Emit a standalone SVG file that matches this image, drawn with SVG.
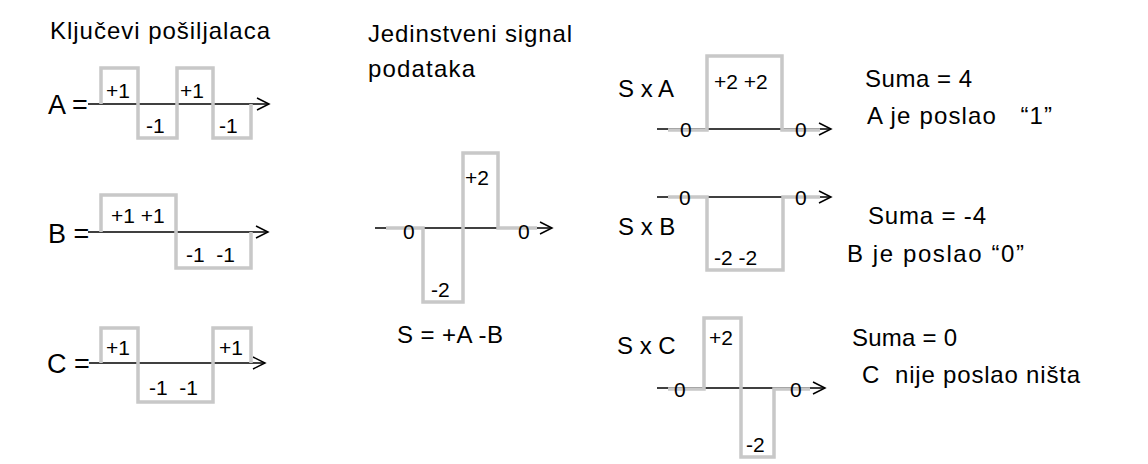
<svg xmlns="http://www.w3.org/2000/svg" width="1148" height="464" viewBox="0 0 1148 464">
<style>
  text { font-family: "Liberation Sans", Arial, sans-serif; fill: #000; }
  .t { font-size: 24px; }
  .eq { font-size: 27px; }
  .v { font-size: 21px; }
  .axis { stroke: #000; stroke-width: 1.5; fill: none; }
  .wave { stroke: #c8c8c8; stroke-width: 3.5; fill: none; stroke-linejoin: miter; }
</style>
<defs>
  <marker id="arr" markerUnits="userSpaceOnUse" markerWidth="16" markerHeight="16" viewBox="0 0 16 16" refX="13" refY="7" orient="auto">
    <path d="M1,1 L13,7 L1,13" fill="none" stroke="#000" stroke-width="1.5"/>
  </marker>
</defs>
<rect width="1148" height="464" fill="#fff"/>

<g id="titles">
  <text class="t" x="50" y="39" textLength="220" lengthAdjust="spacing">Ključevi pošiljalaca</text>
  <text class="t" x="368" y="42" textLength="204" lengthAdjust="spacing">Jedinstveni signal</text>
  <text class="t" x="368" y="77" textLength="107" lengthAdjust="spacing">podataka</text>
</g>

<g id="connectors">
  <line class="axis" x1="88" y1="104" x2="269" y2="104" marker-end="url(#arr)"/>
  <line class="axis" x1="88" y1="232" x2="268" y2="232" marker-end="url(#arr)"/>
  <line class="axis" x1="89" y1="363" x2="265" y2="363" marker-end="url(#arr)"/>
  <line class="axis" x1="375" y1="228" x2="552" y2="228" marker-end="url(#arr)"/>
  <line class="axis" x1="657" y1="129" x2="831" y2="129" marker-end="url(#arr)"/>
  <line class="axis" x1="657" y1="197" x2="831" y2="197" marker-end="url(#arr)"/>
  <line class="axis" x1="657" y1="388" x2="825" y2="388" marker-end="url(#arr)"/>
</g>

<g id="keyA">
  <text class="eq" x="48" y="114">A =</text>
  <path class="wave" d="M101,104 V68 H138 V138 H177 V68 H213 V138 H251 V104"/>
  <text class="v" x="106" y="98">+1</text>
  <text class="v" x="146" y="133">-1</text>
  <text class="v" x="180" y="98">+1</text>
  <text class="v" x="219" y="133">-1</text>
</g>

<g id="keyB">
  <text class="eq" x="48" y="243">B =</text>
  <path class="wave" d="M101,232 V195 H176 V268 H251 V232"/>
  <text class="v" x="111" y="223" xml:space="preserve">+1 +1</text>
  <text class="v" x="186" y="262" xml:space="preserve">-1  -1</text>
</g>

<g id="keyC">
  <text class="eq" x="47" y="373">C =</text>
  <path class="wave" d="M101,363 V328 H138 V402 H213 V328 H251 V363"/>
  <text class="v" x="106" y="355">+1</text>
  <text class="v" x="149" y="395" xml:space="preserve">-1  -1</text>
  <text class="v" x="219" y="355">+1</text>
</g>

<g id="signalS">
  <path class="wave" d="M386,228 H423 V302 H463 V153 H498 V228 H537"/>
  <text class="v" x="403" y="239">0</text>
  <text class="v" x="518" y="239">0</text>
  <text class="v" x="465" y="185">+2</text>
  <text class="v" x="431" y="297">-2</text>
  <text class="t" x="397" y="343" textLength="106" lengthAdjust="spacing">S = +A -B</text>
</g>

<g id="SxA">
  <text class="t" x="618" y="97">S x A</text>
  <path class="wave" d="M668,130 H707 V56 H782 V130 H820"/>
  <text class="v" x="680" y="137">0</text>
  <text class="v" x="795" y="137">0</text>
  <text class="v" x="714" y="89">+2 +2</text>
  <text class="t" x="865" y="87" textLength="107" lengthAdjust="spacing">Suma = 4</text>
  <text class="t" x="867" y="124" textLength="185" lengthAdjust="spacing" xml:space="preserve">A je poslao   “1”</text>
</g>

<g id="SxB">
  <text class="t" x="618" y="235">S x B</text>
  <path class="wave" d="M668,197 H707 V270 H783 V197 H820"/>
  <text class="v" x="679" y="205">0</text>
  <text class="v" x="795" y="205">0</text>
  <text class="v" x="714" y="265" xml:space="preserve">-2 -2</text>
  <text class="t" x="868" y="224" textLength="118" lengthAdjust="spacing">Suma = -4</text>
  <text class="t" x="847" y="262" textLength="177" lengthAdjust="spacing">B je poslao “0”</text>
</g>

<g id="SxC">
  <text class="t" x="617" y="354">S x C</text>
  <path class="wave" d="M668,389 H704 V318 H741 V457 H774 V389 H810"/>
  <text class="v" x="674" y="397">0</text>
  <text class="v" x="790" y="397">0</text>
  <text class="v" x="709" y="345">+2</text>
  <text class="v" x="746" y="452">-2</text>
  <text class="t" x="852" y="346" textLength="105" lengthAdjust="spacing">Suma = 0</text>
  <text class="t" x="862" y="383" textLength="218" lengthAdjust="spacing" xml:space="preserve">C  nije poslao ništa</text>
</g>
</svg>
